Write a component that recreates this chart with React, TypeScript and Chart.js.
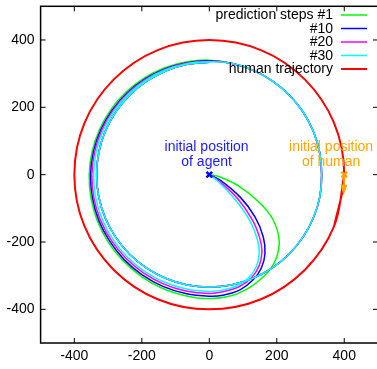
import { useEffect, useRef } from 'react';
import { Chart, registerables } from 'chart.js';

Chart.register(...registerables);

type P = [number, number];

const xTicks = [-400, -200, 0, 200, 400];
const yTicks = [-400, -200, 0, 200, 400];
const xRange = [-500, 500];
const yRange = [-500, 500];

const seriesLabels = ['prediction steps #1', '#10', '#20', '#30', 'human trajectory'];
const seriesColors = ['#00ff00', '#0000ff', '#ff00ff', '#00ffff', '#ff0000'];

// first loop of each predicted agent path: start -> bottom -> left -> top
const step1: P[] = [
  [0, 0], [32, -7], [91, -36], [150, -84], [189, -134], [207, -194], [200, -244], [180, -282],
  [150, -312], [115, -338], [70, -358], [0, -368], [-71.5, -359.5], [-139.8, -337.3],
  [-202.1, -302.1], [-256, -256], [-299.6, -200.4], [-331.7, -137.5], [-350.7, -69.7], [-356, 0],
  [-347.3, 69], [-325.2, 134.8], [-290.9, 194.6], [-246, 246], [-192.4, 287.5], [-131.8, 317.9],
  [-66.7, 335.5], [0, 340],
];
const step10: P[] = [
  [0, 0], [32, -16], [91, -66], [135, -125], [160, -185], [165, -235], [154, -278], [130, -312],
  [91, -342], [40, -358], [0, -361], [-70.2, -353.2], [-137.5, -331.7], [-199, -297.5],
  [-252.4, -252.4], [-295.4, -197.7], [-327.6, -135.8], [-346.3, -68.8], [-352, 0],
  [-343.4, 68.3], [-321.6, 133.3], [-287.5, 192.4], [-243.2, 243.2], [-190.2, 284.2],
  [-130.4, 314.6], [-66.1, 332.6], [0, 338],
];
const step20: P[] = [
  [0, 0], [30, -20], [85, -72], [128, -135], [150, -190], [156, -228], [148, -270], [125, -306],
  [88, -333], [40, -348], [0, -353], [-68.7, -345.8], [-134.8, -325.2], [-195.2, -291.7],
  [-247.8, -247.8], [-290.9, -194.6], [-322.9, -133.9], [-342.4, -68.1], [-348, 0],
  [-339.9, 67.6], [-318.8, 132.1], [-285.4, 191], [-241.8, 241.8], [-189.3, 283],
  [-129.8, 313.2], [-65.9, 331.6], [0, 337],
];
const step30: P[] = [
  [0, 0], [28, -22], [80, -78], [122, -140], [143, -195], [148, -232], [140, -272], [118, -305],
  [83, -330], [38, -343], [0, -347], [-67.6, -339.9], [-132.5, -319.7], [-192.1, -287.1],
  [-243.9, -243.9], [-286.3, -191.5], [-317.9, -131.8], [-337, -67], [-343, 0],
  [-335.5, 66.7], [-315.1, 130.6], [-282.5, 189], [-239.7, 239.7], [-187.9, 280.9],
  [-129.1, 311.4], [-65.5, 329.6], [0, 335],
];
// shared part: top -> right, then the converged second loop
const topArc: P[] = [
  [65.7, 330.6], [128.7, 310.5], [186.5, 278.8], [236.8, 236.8], [278, 186], [308.6, 127.9],
  [327.2, 65], [333, 0],
];
const secondLoop: P[] = [
  [327.7, -65.1], [308.6, -127.9], [277.6, -185.7], [236.2, -236.2], [185.7, -277.6],
  [127.9, -308.6], [65.1, -327.7], [0, -334], [-65.1, -327.7], [-127.9, -308.6],
  [-185.7, -277.6], [-236.2, -236.2], [-277.6, -185.7], [-308.6, -127.9], [-327.7, -65.1],
  [-334, 0], [-327.7, 65.1], [-308.6, 127.9], [-277.6, 185.7], [-236.2, 236.2],
  [-185.7, 277.6], [-127.9, 308.6], [-65.1, 327.7], [0, 334],
];
const human: P[] = [
  [400, 0], [370, -153], [283, -283], [153, -370], [0, -400], [-153, -370], [-283, -283],
  [-370, -153], [-400, 0], [-370, 153], [-283, 283], [-153, 370], [0, 400], [153, 370],
  [283, 283], [370, 153], [400, 0], [370, -153],
];

const agentStart: P[] = [[0, 0]];
const humanStart: P[] = [[400, 0]];
const humanArrow: P[] = [[400, 0], [398, -62]];

const agentLabel = ['initial position', 'of agent'];
const humanLabel = ['initial position', 'of human'];
const agentLabelAt: P = [-8, 70];
const humanLabelAt: P = [361, 70];

const FONT = '14px "Liberation Sans", Arial, sans-serif';

const toXY = (pts: P[]) => pts.map(([x, y]) => ({ x, y }));

const decorPlugin = {
  id: 'decor',
  beforeDatasetsDraw(chart: any) {
    const { ctx, chartArea: a, scales } = chart;
    ctx.save();
    ctx.strokeStyle = '#000';
    ctx.lineWidth = 1;
    const tl = 5;
    ctx.beginPath();
    xTicks.forEach((v) => {
      const px = scales.x.getPixelForValue(v);
      ctx.moveTo(px, a.bottom); ctx.lineTo(px, a.bottom - tl);
      ctx.moveTo(px, a.top); ctx.lineTo(px, a.top + tl);
    });
    yTicks.forEach((v) => {
      const py = scales.y.getPixelForValue(v);
      ctx.moveTo(a.left, py); ctx.lineTo(a.left + tl, py);
      ctx.moveTo(a.right, py); ctx.lineTo(a.right - tl, py);
    });
    ctx.stroke();
    ctx.lineWidth = 1.5;
    ctx.strokeRect(a.left, a.top, a.right - a.left, a.bottom - a.top);
    ctx.restore();
  },
  afterDatasetsDraw(chart: any) {
    const { ctx, scales } = chart;
    ctx.save();
    // arrow showing the human's initial direction
    const [f, t] = humanArrow;
    const x0 = scales.x.getPixelForValue(f[0]);
    const y0 = scales.y.getPixelForValue(f[1]);
    const x1 = scales.x.getPixelForValue(t[0]);
    const y1 = scales.y.getPixelForValue(t[1]);
    const ang = Math.atan2(y1 - y0, x1 - x0);
    const hl = 11, hw = 3.5;
    ctx.strokeStyle = '#ffa500';
    ctx.fillStyle = '#ffa500';
    ctx.lineWidth = 2;
    ctx.beginPath();
    ctx.moveTo(x0, y0);
    ctx.lineTo(x1 - Math.cos(ang) * hl * 0.8, y1 - Math.sin(ang) * hl * 0.8);
    ctx.stroke();
    ctx.beginPath();
    ctx.moveTo(x1, y1);
    ctx.lineTo(x1 - Math.cos(ang) * hl - Math.sin(ang) * hw, y1 - Math.sin(ang) * hl + Math.cos(ang) * hw);
    ctx.lineTo(x1 - Math.cos(ang) * hl + Math.sin(ang) * hw, y1 - Math.sin(ang) * hl - Math.cos(ang) * hw);
    ctx.closePath();
    ctx.fill();

    // annotations
    ctx.font = FONT;
    ctx.textAlign = 'center';
    ctx.textBaseline = 'alphabetic';
    const drawLabel = (lines: string[], at: P, color: string) => {
      const px = scales.x.getPixelForValue(at[0]);
      const py = scales.y.getPixelForValue(at[1]);
      ctx.fillStyle = color;
      lines.forEach((s, i) => ctx.fillText(s, px, py + i * 14.5));
    };
    drawLabel(agentLabel, agentLabelAt, '#1a1aff');
    drawLabel(humanLabel, humanLabelAt, '#ffa500');

    // legend
    const legendRight = 333;
    const legendTop = 15;
    const rowH = 13.5;
    ctx.textAlign = 'right';
    ctx.textBaseline = 'middle';
    seriesLabels.forEach((lab, i) => {
      const y = legendTop + i * rowH;
      ctx.fillStyle = '#000';
      ctx.fillText(lab, legendRight, y + 0.5);
      ctx.strokeStyle = seriesColors[i];
      ctx.lineWidth = i === 4 ? 2 : 1.5;
      ctx.beginPath();
      ctx.moveTo(341, y);
      ctx.lineTo(367, y);
      ctx.stroke();
    });
    ctx.restore();
  },
};

export default function App() {
  const ref = useRef<HTMLCanvasElement | null>(null);
  useEffect(() => {
    if (!ref.current) return;
    const paths = [step1, step10, step20, step30];
    const lineSets: any[] = paths.map((p, i) => ({
      label: seriesLabels[i],
      data: toXY([...p, ...topArc, ...secondLoop]),
      borderColor: seriesColors[i],
      backgroundColor: seriesColors[i],
      borderWidth: 1.5,
      showLine: true,
      pointRadius: 0,
      tension: 0.35,
      order: 10 - i,
    }));
    lineSets.push({
      label: seriesLabels[4],
      data: toXY(human),
      borderColor: seriesColors[4],
      backgroundColor: seriesColors[4],
      borderWidth: 2,
      showLine: true,
      pointRadius: 0,
      tension: 0.35,
      order: 3,
    });
    lineSets.push({
      label: 'agent start',
      data: toXY(agentStart),
      showLine: false,
      pointStyle: 'crossRot',
      pointRadius: 4,
      pointBorderWidth: 2.5,
      borderColor: '#0000ff',
      backgroundColor: '#0000ff',
      order: 1,
    });
    lineSets.push({
      label: 'human start',
      data: toXY(humanStart),
      showLine: false,
      pointStyle: 'crossRot',
      pointRadius: 4,
      pointBorderWidth: 2.5,
      borderColor: '#ffa500',
      backgroundColor: '#ffa500',
      order: 0,
    });
    const tickFont = { family: '"Liberation Sans", Arial, sans-serif', size: 14 };
    const chart = new Chart(ref.current, {
      type: 'scatter',
      data: { datasets: lineSets },
      options: {
        animation: false,
        responsive: false,
        maintainAspectRatio: false,
        layout: { autoPadding: false, padding: { top: 6.3, right: 2, left: 0, bottom: 0 } },
        plugins: { legend: { display: false }, tooltip: { enabled: false } },
        scales: {
          x: {
            type: 'linear',
            min: xRange[0],
            max: xRange[1],
            afterBuildTicks: (s: any) => { s.ticks = xTicks.map((v) => ({ value: v })); },
            afterFit: (s: any) => { s.height = 26; s.paddingLeft = 0; s.paddingRight = 0; },
            grid: { display: false, drawTicks: false },
            border: { display: false },
            ticks: { font: tickFont, color: '#000', padding: 5, maxRotation: 0, autoSkip: false },
          },
          y: {
            type: 'linear',
            min: yRange[0],
            max: yRange[1],
            afterBuildTicks: (s: any) => { s.ticks = yTicks.map((v) => ({ value: v })); },
            afterFit: (s: any) => { s.width = 40.6; s.paddingTop = 0; s.paddingBottom = 0; },
            grid: { display: false, drawTicks: false },
            border: { display: false },
            ticks: { font: tickFont, color: '#000', padding: 6, autoSkip: false },
          },
        },
      },
      plugins: [decorPlugin],
    });
    return () => chart.destroy();
  }, []);
  return (
    <div style={{ position: 'absolute', left: 0, top: 0, width: 377, height: 369, overflow: 'hidden', background: '#fff' }}>
      <canvas ref={ref} width={380} height={369} style={{ display: 'block', width: 380, height: 369 }} />
    </div>
  );
}
